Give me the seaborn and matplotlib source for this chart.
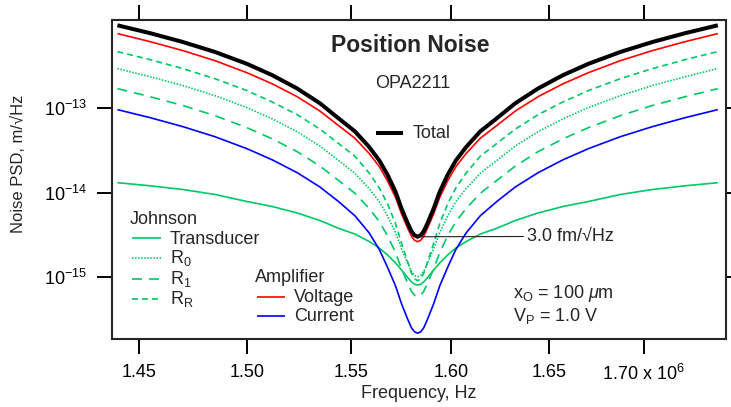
import numpy as np
import pandas as pd
import matplotlib
matplotlib.use('Agg')
import matplotlib.pyplot as plt
import seaborn as sns
from matplotlib.lines import Line2D
from matplotlib.ticker import FixedLocator, NullLocator, FixedFormatter

# ---------------- data ----------------
freq_hz = [1.4400e6, 1.4550e6, 1.4700e6, 1.4850e6, 1.5000e6, 1.5120e6, 1.5240e6, 1.5350e6,
           1.5440e6, 1.5520e6, 1.5590e6, 1.5640e6, 1.5680e6, 1.5720e6, 1.5750e6, 1.5780e6,
           1.5800e6, 1.5815e6, 1.5830e6, 1.5845e6, 1.5860e6, 1.5880e6, 1.5910e6, 1.5941e6,
           1.5981e6, 1.6022e6, 1.6074e6, 1.6146e6, 1.6230e6, 1.6325e6, 1.6443e6, 1.6573e6,
           1.6706e6, 1.6875e6, 1.7047e6, 1.7223e6, 1.7402e6]

total = [9.60e-13, 7.74e-13, 6.09e-13, 4.64e-13, 3.36e-13, 2.47e-13, 1.715e-13, 1.146e-13,
         7.61e-14, 5.33e-14, 3.48e-14, 2.41e-14, 1.64e-14, 1.03e-14, 6.50e-15, 4.39e-15,
         3.48e-15, 3.14e-15, 3.02e-15, 3.14e-15, 3.48e-15, 4.39e-15, 6.50e-15, 1.03e-14,
         1.64e-14, 2.41e-14, 3.48e-14, 5.33e-14, 7.61e-14, 1.146e-13, 1.715e-13, 2.47e-13,
         3.36e-13, 4.64e-13, 6.09e-13, 7.74e-13, 9.60e-13]

amp_voltage = [7.66e-13, 6.14e-13, 4.82e-13, 3.66e-13, 2.64e-13, 1.95e-13, 1.372e-13, 9.27e-14,
               6.25e-14, 4.42e-14, 2.92e-14, 2.04e-14, 1.39e-14, 8.84e-15, 5.63e-15, 3.83e-15,
               3.04e-15, 2.74e-15, 2.64e-15, 2.74e-15, 3.04e-15, 3.83e-15, 5.63e-15, 8.84e-15,
               1.39e-14, 2.04e-14, 2.92e-14, 4.42e-14, 6.25e-14, 9.27e-14, 1.372e-13, 1.95e-13,
               2.64e-13, 3.66e-13, 4.82e-13, 6.14e-13, 7.66e-13]

amp_current = [9.65e-14, 7.74e-14, 6.07e-14, 4.61e-14, 3.33e-14, 2.46e-14, 1.73e-14, 1.17e-14,
               7.88e-15, 5.35e-15, 3.35e-15, 2.13e-15, 1.32e-15, 7.93e-16, 4.85e-16, 3.21e-16,
               2.51e-16, 2.26e-16, 2.18e-16, 2.26e-16, 2.51e-16, 3.21e-16, 4.85e-16, 7.93e-16,
               1.32e-15, 2.13e-15, 3.35e-15, 5.35e-15, 7.88e-15, 1.17e-14, 1.73e-14, 2.46e-14,
               3.33e-14, 4.61e-14, 6.07e-14, 7.74e-14, 9.65e-14]

johnson_transducer = [1.317e-14, 1.210e-14, 1.094e-14, 9.55e-15, 7.89e-15, 6.89e-15, 5.77e-15,
                      4.70e-15, 3.80e-15, 3.25e-15, 2.65e-15, 2.22e-15, 1.84e-15, 1.48e-15,
                      1.22e-15, 9.95e-16, 8.80e-16, 8.26e-16, 8.11e-16, 8.26e-16, 8.80e-16,
                      9.95e-16, 1.22e-15, 1.48e-15, 1.84e-15, 2.22e-15, 2.65e-15, 3.25e-15,
                      3.80e-15, 4.70e-15, 5.77e-15, 6.89e-15, 7.89e-15, 9.55e-15, 1.094e-14,
                      1.210e-14, 1.317e-14]

johnson_r0 = [2.95e-13, 2.36e-13, 1.86e-13, 1.41e-13, 1.02e-13, 7.51e-14, 5.28e-14, 3.57e-14,
              2.41e-14, 1.70e-14, 1.12e-14, 7.85e-15, 5.35e-15, 3.40e-15, 2.17e-15, 1.47e-15,
              1.17e-15, 1.05e-15, 1.02e-15, 1.05e-15, 1.17e-15, 1.47e-15, 2.17e-15, 3.40e-15,
              5.35e-15, 7.85e-15, 1.12e-14, 1.70e-14, 2.41e-14, 3.57e-14, 5.28e-14, 7.51e-14,
              1.02e-13, 1.41e-13, 1.86e-13, 2.36e-13, 2.95e-13]

johnson_r1 = [1.71e-13, 1.37e-13, 1.08e-13, 8.18e-14, 5.90e-14, 4.36e-14, 3.07e-14, 2.07e-14,
              1.40e-14, 9.87e-15, 6.52e-15, 4.56e-15, 3.11e-15, 1.97e-15, 1.26e-15, 8.56e-16,
              6.79e-16, 6.12e-16, 5.90e-16, 6.12e-16, 6.79e-16, 8.56e-16, 1.26e-15, 1.97e-15,
              3.11e-15, 4.56e-15, 6.52e-15, 9.87e-15, 1.40e-14, 2.07e-14, 3.07e-14, 4.36e-14,
              5.90e-14, 8.18e-14, 1.08e-13, 1.37e-13, 1.71e-13]

johnson_rr = [4.69e-13, 3.76e-13, 2.95e-13, 2.24e-13, 1.62e-13, 1.19e-13, 8.40e-14, 5.67e-14,
              3.83e-14, 2.71e-14, 1.71e-14, 1.14e-14, 7.44e-15, 4.33e-15, 2.51e-15, 1.53e-15,
              1.11e-15, 9.59e-16, 9.11e-16, 9.59e-16, 1.11e-15, 1.53e-15, 2.51e-15, 4.33e-15,
              7.44e-15, 1.14e-14, 1.71e-14, 2.71e-14, 3.83e-14, 5.67e-14, 8.40e-14, 1.19e-13,
              1.62e-13, 2.24e-13, 2.95e-13, 3.76e-13, 4.69e-13]

xtick_values = [1.45e6, 1.50e6, 1.55e6, 1.60e6, 1.65e6, 1.70e6]
xtick_labels = ['1.45', '1.50', '1.55', '1.60', '1.65', r'1.70 x 10$^{6}$']
ytick_values = [1e-15, 1e-14, 1e-13]

# ---------------- style ----------------
sns.set_style('ticks')
plt.rcParams['font.family'] = ['Liberation Sans', 'DejaVu Sans']
plt.rcParams['mathtext.fontset'] = 'custom'
plt.rcParams['mathtext.rm'] = 'Liberation Sans'
plt.rcParams['mathtext.it'] = 'Liberation Sans:italic'
plt.rcParams['mathtext.bf'] = 'Liberation Sans:bold'
plt.rcParams['axes.unicode_minus'] = False
plt.rcParams['lines.scale_dashes'] = False

W, H = 731, 407
fig = plt.figure(figsize=(W / 100, H / 100), dpi=100)
fig.patch.set_facecolor('white')
L, R, T, B = 111.7, 726.0, 20.0, 338.7
ax = fig.add_axes([L / W, 1 - B / H, (R - L) / W, (B - T) / H])
ax.set_facecolor('white')

GREEN = '#00c864'
RED = '#ff0000'
BLUE = '#0000ff'
BLACK = '#000000'

DOT = (1.1, 1.1)
LDASH = (7.2, 5.0)
SDASH = (4.3, 2.9)

series = [
    (johnson_transducer, GREEN, 1.2, None),
    (johnson_r0, GREEN, 1.2, DOT),
    (johnson_r1, GREEN, 1.2, LDASH),
    (johnson_rr, GREEN, 1.2, SDASH),
    (amp_current, BLUE, 1.2, None),
    (amp_voltage, RED, 1.2, None),
    (total, BLACK, 2.9, None),
]
for vals, color, lw, dashes in series:
    df = pd.DataFrame({'f': freq_hz, 'v': vals})
    sns.lineplot(data=df, x='f', y='v', ax=ax, color=color, linewidth=lw,
                 estimator=None, sort=False, legend=False)
    line = ax.lines[-1]
    line.set_solid_capstyle('butt')
    line.set_solid_joinstyle('round')
    if dashes is not None:
        line.set_dashes(dashes)
        line.set_dash_capstyle('butt')

ax.set_xscale('log')
ax.set_yscale('log')
ax.set_xlim(1.4374e6, 1.7447e6)
ax.set_ylim(1.877e-16, 1.109e-12)

ax.xaxis.set_major_locator(FixedLocator(xtick_values))
ax.xaxis.set_major_formatter(FixedFormatter(xtick_labels))
ax.xaxis.set_minor_locator(NullLocator())
ax.yaxis.set_major_locator(FixedLocator(ytick_values))
ax.yaxis.set_minor_locator(NullLocator())
ax.yaxis.set_minor_formatter(plt.NullFormatter())

for sp in ax.spines.values():
    sp.set_linewidth(1.5)
    sp.set_visible(True)
ax.tick_params(which='major', direction='out', length=10.5, width=1.4,
               top=True, right=True, labeltop=False, labelright=False,
               labelsize=13, colors='black')
ax.tick_params(axis='x', pad=8)
ax.tick_params(axis='y', pad=7.5)

ax.set_xlabel('Frequency, Hz', fontsize=13)
ax.xaxis.label.set_va('center')
ax.xaxis.set_label_coords(0.5, (B - 393) / (B - T))
ax.set_ylabel('Noise PSD, m/\u221aHz', fontsize=12)
ax.yaxis.label.set_va('center')
ax.yaxis.set_label_coords((18 - L) / (R - L), (B - 164) / (B - T))


def ftext(x, y, s, **kw):
    fig.text(x / W, 1 - y / H, s, **kw)


def key(x0, x1, y, **kw):
    fig.add_artist(Line2D([x0 / W, x1 / W], [1 - y / H, 1 - y / H],
                          transform=fig.transFigure, solid_capstyle='butt',
                          dash_capstyle='butt', **kw))


FS = 13
ftext(410, 52.3, 'Position Noise', fontsize=16.5, fontweight='bold', ha='center', va='baseline')
ftext(412.5, 88.3, 'OPA2211', fontsize=FS, ha='center', va='baseline')
key(376, 403, 133.3, color=BLACK, lw=2.9)
ftext(412.7, 138.3, 'Total', fontsize=FS, ha='left', va='baseline')

ftext(130, 224, 'Johnson', fontsize=FS, ha='left', va='baseline')
key(132, 161, 238.3, color=GREEN, lw=1.2)
ftext(170, 244.5, 'Transducer', fontsize=FS, ha='left', va='baseline')
key(132, 161, 258.3, color=GREEN, lw=1.2, dashes=DOT)
ftext(170, 263.3, r'R$_\mathrm{0}$', fontsize=FS, ha='left', va='baseline')
key(132, 161, 279, color=GREEN, lw=1.2, dashes=LDASH)
ftext(170, 284, r'R$_\mathrm{1}$', fontsize=FS, ha='left', va='baseline')
key(132, 161, 299.3, color=GREEN, lw=1.2, dashes=SDASH)
ftext(170, 304, r'R$_\mathrm{R}$', fontsize=FS, ha='left', va='baseline')

ftext(255, 282, 'Amplifier', fontsize=FS, ha='left', va='baseline')
key(257, 285, 296.7, color=RED, lw=1.2)
ftext(294.3, 301.7, 'Voltage', fontsize=FS, ha='left', va='baseline')
key(257, 285, 315.5, color=BLUE, lw=1.2)
ftext(294.3, 321, 'Current', fontsize=FS, ha='left', va='baseline')

ftext(512.7, 298.5, r'x$_\mathrm{O}$ = 100 $\mu$m', fontsize=FS, ha='left', va='baseline')
ftext(512.7, 321.5, r'V$_\mathrm{P}$ = 1.0 V', fontsize=FS, ha='left', va='baseline')

imin = int(np.argmin(total))
ax.annotate('3.0 fm/\u221aHz', xy=(freq_hz[imin], total[imin]),
            xytext=(526.7, H - 236.5), textcoords='figure pixels',
            fontsize=FS, ha='left', va='center',
            arrowprops=dict(arrowstyle='-', color='#222222', lw=0.8,
                            shrinkA=0, shrinkB=0, relpos=(0, 0.5)))

fig.savefig('out.png', dpi=100, facecolor='white')
